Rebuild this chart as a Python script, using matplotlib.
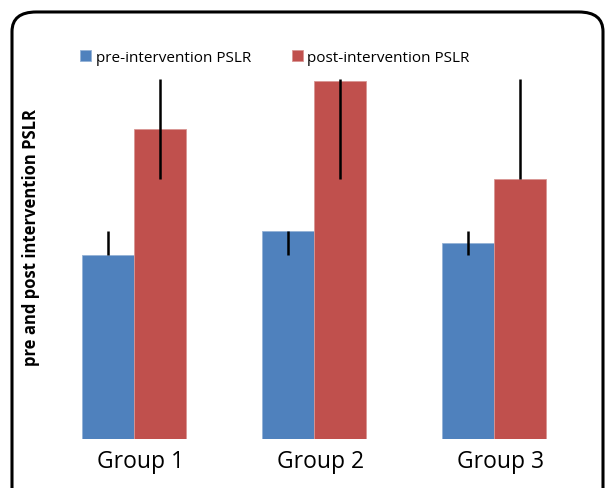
import matplotlib.pyplot as plt
import numpy as np
from matplotlib.patches import FancyBboxPatch

# Data (arbitrary units)
groups = ['Group 1', 'Group 2', 'Group 3']
pre = [46.0, 52.0, 49.0]
post = [77.5, 89.5, 65.0]
pre_err_low = [0.0, 6.0, 3.0]
pre_err_high = [6.0, 0.0, 3.0]
post_err_low = [12.5, 24.5, 0.0]
post_err_high = [12.5, 0.5, 25.0]

plt.rcParams['font.family'] = ['Open Sans', 'DejaVu Sans']

fig = plt.figure(figsize=(6.07, 4.89), dpi=100)
ax = fig.add_axes([0.0725, 0.1002, 0.8896, 0.777])

x = np.arange(len(groups))
w = 0.29
ax.bar(x - w / 2, pre, w, color='#4F81BD', edgecolor='#95B3D7', linewidth=0.6,
       label='pre-intervention PSLR')
ax.bar(x + w / 2, post, w, color='#C0504D', edgecolor='#D99694', linewidth=0.6,
       label='post-intervention PSLR')
ax.errorbar(x - w / 2, pre, yerr=[pre_err_low, pre_err_high], fmt='none',
            ecolor='black', elinewidth=1.8, capsize=0)
ax.errorbar(x + w / 2, post, yerr=[post_err_low, post_err_high], fmt='none',
            ecolor='black', elinewidth=1.8, capsize=0)

ax.set_xlim(-0.5, 2.5)
ax.set_ylim(0, 95)
ax.set_xticks(x + 0.035)
ax.set_xticklabels(groups, fontsize=16.5)
ax.tick_params(axis='x', length=0, pad=7)
ax.set_yticks([])
for s in ax.spines.values():
    s.set_visible(False)

ax.set_ylabel('pre and post intervention PSLR', fontsize=12, fontweight='bold')
ax.yaxis.set_label_coords(-0.008, 0.534)

ax.legend(loc='center', bbox_to_anchor=(0.428, 1.005), ncol=2, frameon=False,
          fontsize=11, handlelength=0.7, handleheight=0.7, handletextpad=0.3,
          columnspacing=2.7)

# rounded outer frame (bottom edge runs off the image)
frame = FancyBboxPatch((12 / 607, -0.2), 591 / 607, (489 - 12) / 489 + 0.2 - 0.002,
                       boxstyle='round,pad=0,rounding_size=0.04',
                       transform=fig.transFigure, fill=False,
                       edgecolor='black', linewidth=2.2, clip_on=False)
fig.patches.append(frame)

plt.savefig('out.png', dpi=100)
